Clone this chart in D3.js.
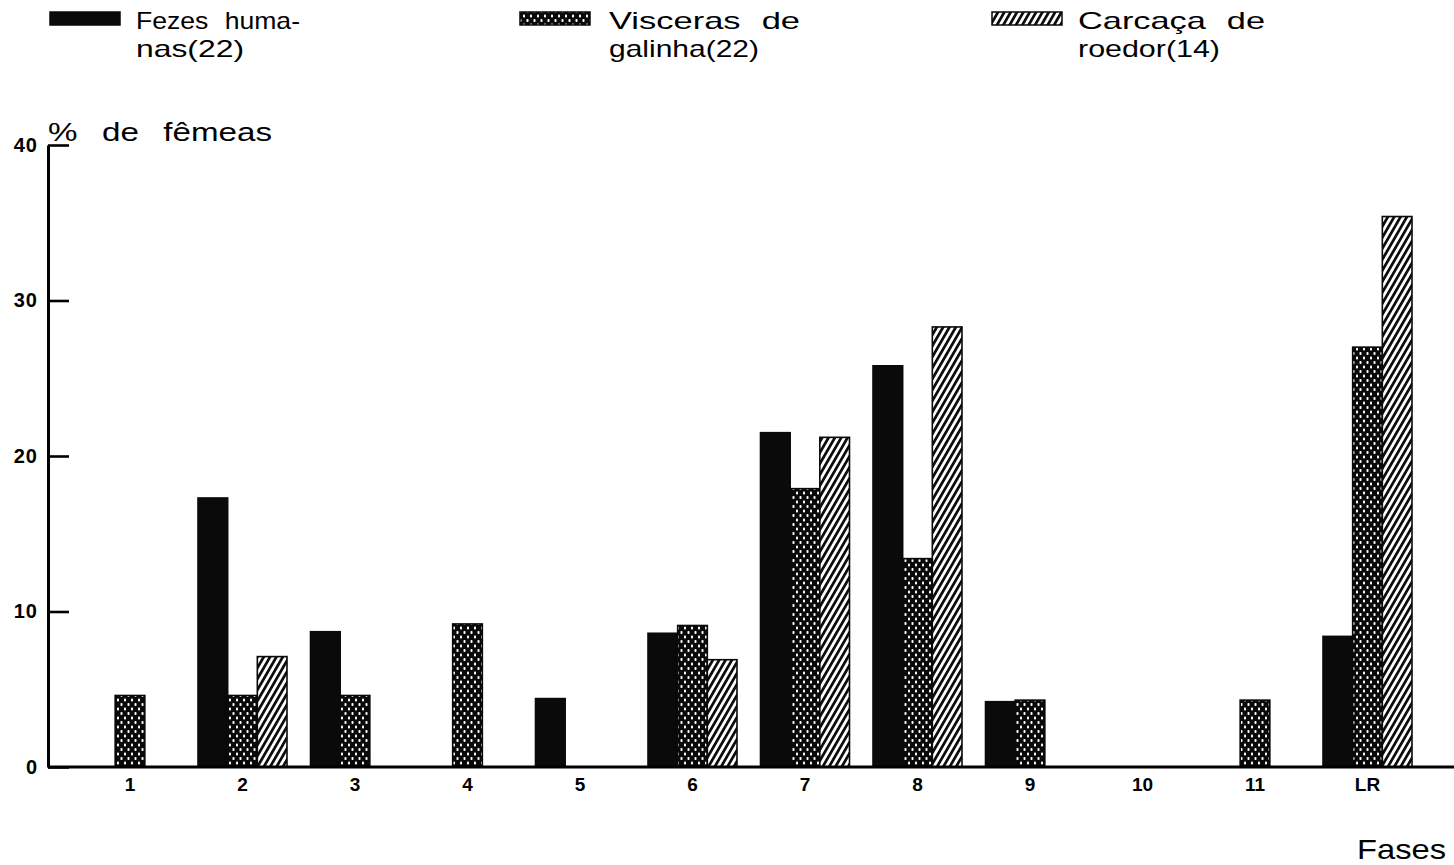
<!DOCTYPE html>
<html>
<head>
<meta charset="utf-8">
<script src="https://cdn.jsdelivr.net/npm/d3@7"></script>
<style>
  html, body { margin: 0; padding: 0; background: #fff; }
  svg { display: block; font-family: "Liberation Sans", Arial, sans-serif; }
</style>
</head>
<body>
<svg id="chart" width="1454" height="865"></svg>
<script>
// ---- data ----
const categories = ["1","2","3","4","5","6","7","8","9","10","11","LR"];
const fezesHumanas    = [0, 17.3, 8.7, 0, 4.4, 8.6, 21.5, 25.8, 4.2, 0, 0, 8.4];
const viscerasGalinha = [4.6, 4.6, 4.6, 9.2, 0, 9.1, 17.9, 13.4, 4.3, 0, 4.3, 27.0];
const carcacaRoedor   = [0, 7.1, 0, 0, 0, 6.9, 21.2, 28.3, 0, 0, 0, 35.4];
const seriesNames = ["Fezes humanas(22)", "Visceras de galinha(22)", "Carcaça de roedor(14)"];
const legendLines = [["Fezes huma-", "nas(22)"], ["Visceras de", "galinha(22)"], ["Carcaça de", "roedor(14)"]];
const yTicks = [0, 10, 20, 30, 40];
const yTitle = "% de fêmeas";
const xTitle = "Fases";

// ---- layout (not data) ----
const legendSwatchX = [50, 520, 992];
const legendTextX = [136, 609, 1078];
const legendLineWidths = [[164, 108], [191, 150], [187, 142]];

const seriesValues = [fezesHumanas, viscerasGalinha, carcacaRoedor];
const seriesKeys = ["fezes", "visceras", "carcaca"];

const svg = d3.select("#chart");
const defs = svg.append("defs");

// Visceras: black with white dots
const pv = defs.append("pattern").attr("id", "pat-visceras")
  .attr("patternUnits", "userSpaceOnUse").attr("width", 7).attr("height", 9);
pv.append("rect").attr("width", 7).attr("height", 9).attr("fill", "#0a0a0a");
pv.append("rect").attr("x", 1.5).attr("y", 1).attr("width", 2).attr("height", 3).attr("rx", 0.8).attr("fill", "#fff");
pv.append("rect").attr("x", 5).attr("y", 5.5).attr("width", 2).attr("height", 3).attr("rx", 0.8).attr("fill", "#fff");
// Carcaca: diagonal hatch
const pc = defs.append("pattern").attr("id", "pat-carcaca")
  .attr("patternUnits", "userSpaceOnUse").attr("width", 5.5).attr("height", 10)
  .attr("patternTransform", "rotate(30)");
pc.append("rect").attr("width", 5.5).attr("height", 10).attr("fill", "#fff");
pc.append("rect").attr("x", 0).attr("y", 0).attr("width", 2.7).attr("height", 10).attr("fill", "#0a0a0a");

const fills = { fezes: "#0a0a0a", visceras: "url(#pat-visceras)", carcaca: "url(#pat-carcaca)" };

// scales
const x0 = d3.scaleBand().domain(categories).range([73.75, 1423.75])
  .paddingInner(0.209).paddingOuter(0.1045);
const x1 = d3.scaleBand().domain(seriesKeys).range([0, x0.bandwidth()]).padding(0);
const y = d3.scaleLinear().domain([0, 40]).range([767, 145]);

// bars
const g = svg.append("g");
categories.forEach((c, i) => {
  seriesKeys.forEach((k, j) => {
    const v = seriesValues[j][i];
    if (v <= 0) return;
    g.append("rect")
      .attr("x", x0(c) + x1(k))
      .attr("y", y(v))
      .attr("width", x1.bandwidth())
      .attr("height", y(0) - y(v))
      .attr("fill", fills[k])
      .attr("stroke", "#0a0a0a")
      .attr("stroke-width", 1.6);
  });
});

// y axis
const yAxis = d3.axisLeft(y).tickValues(yTicks).tickSizeInner(-21).tickSizeOuter(0).tickPadding(10);
const gy = svg.append("g").attr("transform", "translate(48,0)").call(yAxis);
gy.attr("font-size", null).attr("font-family", null);
gy.select(".domain").attr("stroke", "#000").attr("stroke-width", 3);
gy.selectAll(".tick line").attr("stroke", "#000").attr("stroke-width", 2.6);
gy.selectAll(".tick text").style("font-size", "20px").style("font-weight", "bold")
  .attr("letter-spacing", 1).attr("fill", "#000");

// x axis
const xAxis = d3.axisBottom(x0).tickSize(0).tickPadding(11);
const gx = svg.append("g").attr("transform", `translate(0,${y(0)})`).call(xAxis);
gx.attr("font-size", null).attr("font-family", null);
gx.select(".domain").remove();
gx.selectAll(".tick text").style("font-size", "19px").style("font-weight", "bold").attr("fill", "#000");
svg.append("line").attr("x1", 48).attr("x2", 1454).attr("y1", y(0)).attr("y2", y(0))
  .attr("stroke", "#000").attr("stroke-width", 3);

// titles
svg.append("text").attr("x", 48).attr("y", 141).style("font-size", "26px").attr("word-spacing", 12)
  .attr("textLength", 224).attr("lengthAdjust", "spacingAndGlyphs").attr("fill", "#000").text(yTitle);
svg.append("text").attr("x", 1357).attr("y", 859).style("font-size", "28px")
  .attr("textLength", 89).attr("lengthAdjust", "spacingAndGlyphs").attr("fill", "#000").text(xTitle);

// legend
seriesKeys.forEach((k, j) => {
  svg.append("rect").attr("x", legendSwatchX[j]).attr("y", 12).attr("width", 70).attr("height", 13)
    .attr("fill", fills[k]).attr("stroke", "#0a0a0a").attr("stroke-width", 1.5);
  const t = svg.append("text").style("font-size", "24px").attr("word-spacing", 8).attr("fill", "#000");
  legendLines[j].forEach((ln, li) => {
    t.append("tspan").attr("x", legendTextX[j]).attr("y", 29 + li * 28)
      .attr("textLength", legendLineWidths[j][li]).attr("lengthAdjust", "spacingAndGlyphs").text(ln);
  });
  t.append("title").text(seriesNames[j]);
});
</script>
</body>
</html>
